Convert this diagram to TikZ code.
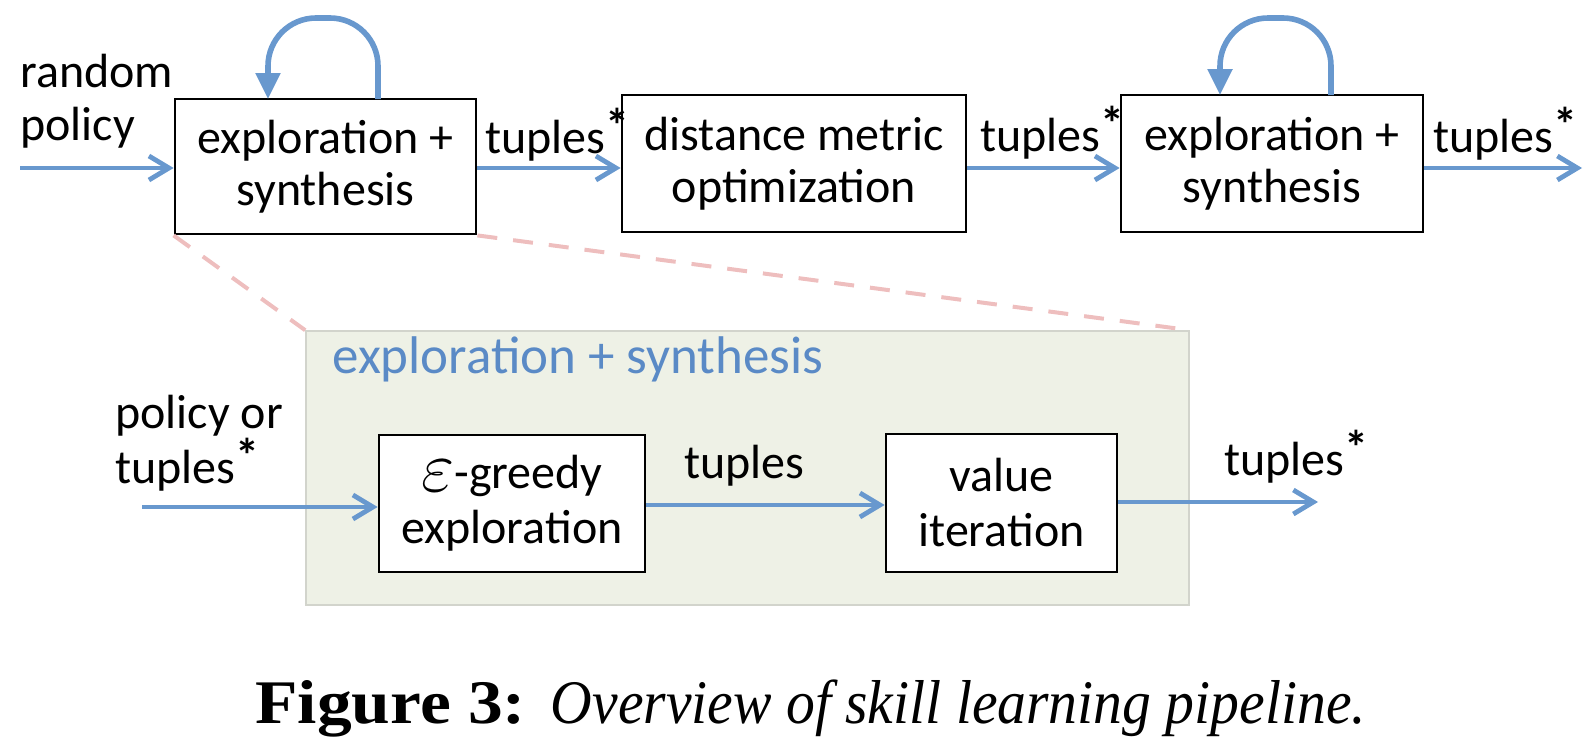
\documentclass[tikz,border=0pt]{standalone}
\usepackage{fontspec}
\usepackage{graphicx}
\setmainfont{Carlito}
\newfontfamily\capfont{Liberation Serif}
\usetikzlibrary{arrows.meta}
\definecolor{arrblue}{RGB}{104,152,206}
\definecolor{titleblue}{RGB}{90,138,198}
\definecolor{panelfill}{RGB}{238,241,230}
\definecolor{panelline}{RGB}{210,212,204}
\definecolor{dashpink}{RGB}{238,190,190}
\tikzset{
  pbox/.style={draw=black, line width=1.4pt, fill=white, align=center, inner sep=0pt,
    font=\fontsize{24}{26}\selectfont},
  lowbox/.style={pbox, font=\fontsize{24}{27.5}\selectfont},
  flow/.style={draw=arrblue, line width=2.4pt, -{Straight Barb[length=10pt,width=12pt,line width=2.4pt]}},
  selfloop/.style={draw=arrblue, line width=2.8pt, rounded corners=24pt, -{Triangle[length=13pt,width=12pt]}},
  lbl/.style={font=\fontsize{24}{26}\selectfont, inner sep=0pt},
  zoomline/.style={draw=dashpink, line width=2pt, dash pattern=on 10pt off 8pt},
}
\newcommand{\tstar}{tuples\raisebox{5.5pt}{\fontsize{24}{24}\selectfont\bfseries *}}
\begin{document}
\begin{tikzpicture}[x=0.5pt,y=-0.5pt]
\useasboundingbox (0,0) rectangle (1594,750);

% top row
\node[pbox, minimum width=150.5pt, minimum height=67.5pt] (b1) at (325.5,166.5) {exploration +\\synthesis};
\node[pbox, minimum width=172pt, minimum height=68.5pt] (b2) at (794,163.5) {distance metric\\optimization};
\node[pbox, minimum width=151pt, minimum height=68.5pt] (b3) at (1272,163.5) {exploration +\\synthesis};

\node[lbl, anchor=base west] (rp1) at (20,87) {random};
\node[lbl, anchor=base west] (rp2) at (20,140) {policy};
\coordinate (in1) at (20,168);
\coordinate (out1) at (1582,168);

\draw[flow] (in1) -- (b1.west |- in1);
\draw[flow] (b1.east |- in1) -- (b2.west |- in1);
\draw[flow] (b2.east |- in1) -- (b3.west |- in1);
\draw[flow] (b3.east |- in1) -- (out1);

\node[lbl, anchor=base west] (t1) at (485,153) {\tstar};
\node[lbl, anchor=base west] (t2) at (980,151) {\tstar};
\node[lbl, anchor=base west] (t3) at (1433,152) {\tstar};

% self loops
\coordinate (l1a) at (378,99);
\coordinate (l1b) at (268,99);
\draw[selfloop] (l1a) -- (378,18) -- (268,18) -- (l1b);
\coordinate (l3a) at (1331,95);
\coordinate (l3b) at (1220,95);
\draw[selfloop] (l3a) -- (1331,18) -- (1220,18) -- (l3b);

% panel
\node[draw=panelline, fill=panelfill, line width=0.8pt, minimum width=441.5pt, minimum height=137pt, inner sep=0pt] (panel) at (747.5,468) {};
\draw[zoomline] (b1.south west) -- (panel.north west);
\draw[zoomline] (b1.south east) -- (panel.north east);
\node[inner sep=0pt, font=\fontsize{26.5}{28}\selectfont, anchor=base west, text=titleblue] (ptitle) at (332,373) {exploration + synthesis};

\node[lowbox, minimum width=133pt, minimum height=68.5pt] (b4) at (512,503.5) {\raisebox{-0.05em}{\scalebox{1.45}{$\varepsilon$}}-greedy\\exploration};
\node[lowbox, minimum width=115.5pt, minimum height=69pt] (b5) at (1001.5,503) {value\\iteration};

\node[lbl, anchor=base west] (po1) at (115,428) {policy or};
\node[lbl, anchor=base west] (po2) at (115,483) {\tstar};
\coordinate (in2) at (142,507);
\coordinate (mid2) at (700,505);
\coordinate (out2) at (1318,502);
\draw[flow] (in2) -- (b4.west |- in2);
\draw[flow] (b4.east |- mid2) -- (b5.west |- mid2);
\draw[flow] (b5.east |- out2) -- (out2);
\node[lbl, anchor=base west] (t4) at (684,478) {tuples};
\node[lbl, anchor=base west] (t5) at (1224,475) {\tstar};

% caption
\node[font=\capfont\fontsize{31}{34}\selectfont, anchor=base west, inner sep=0pt] (cap) at (255,723)
  {\scalebox{1.12}[1]{\textbf{Figure 3:}}\hspace{0.4em}\scalebox{0.93}[1]{\textit{Overview of skill learning pipeline.}}};
\end{tikzpicture}
\end{document}
